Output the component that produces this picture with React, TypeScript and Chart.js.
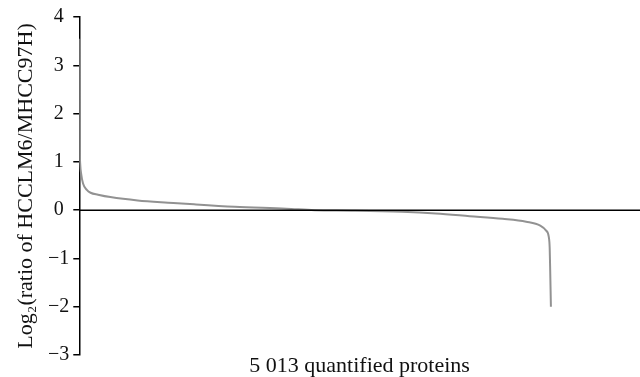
import React, { useEffect, useRef } from "react";
import { Chart, registerables } from "chart.js";

Chart.register(...registerables);

// Protein rank (sorted by ratio) and log2 ratio
const ranks = [1, 3, 6, 10, 20, 40, 80, 120, 200, 330, 620, 1000, 1220, 1650, 2200, 2500, 2900, 3430, 3790, 4150, 4500, 4750, 4900, 4960, 4990, 5000, 5006, 5013];
const log2Ratios = [3.55, 2.0, 1.2, 0.95, 0.75, 0.55, 0.42, 0.36, 0.32, 0.27, 0.2, 0.15, 0.12, 0.07, 0.03, 0.0, -0.01, -0.035, -0.07, -0.125, -0.18, -0.24, -0.32, -0.42, -0.55, -0.78, -1.3, -2.0];
const yTicks = [-3, -2, -1, 0, 1, 2, 3, 4];
const xMax = 5960;
const yTitle = "Log\u2082(ratio of HCCLM6/MHCC97H)";
const xTitle = "5 013 quantified proteins";

export default function App() {
  const ref = useRef<HTMLCanvasElement>(null);
  useEffect(() => {
    if (!ref.current) return;
    const family = "'Liberation Serif', 'Times New Roman', serif";
    const tickFont = { family, size: 20 };
    const titleFont = { family, size: 22, lineHeight: 1.0 };
    const zeroLine = {
      id: "zeroLine",
      afterDatasetsDraw(chart: any) {
        const { ctx, chartArea, scales } = chart;
        const y = scales.y.getPixelForValue(0);
        ctx.save();
        ctx.strokeStyle = "#000";
        ctx.lineWidth = 1.5;
        ctx.beginPath();
        ctx.moveTo(chartArea.left, y);
        ctx.lineTo(chartArea.right, y);
        ctx.stroke();
        ctx.restore();
      },
    };
    const chart = new Chart(ref.current, {
      type: "line",
      data: {
        datasets: [
          {
            data: ranks.map((r, i) => ({ x: r, y: log2Ratios[i] })),
            borderColor: "#929292",
            borderWidth: 2,
            pointRadius: 0,
            cubicInterpolationMode: "monotone",
            fill: false,
          },
        ],
      },
      options: {
        animation: false,
        responsive: false,
        maintainAspectRatio: false,
        layout: { padding: { top: 17, right: 0, left: 15, bottom: 0 } },
        plugins: { legend: { display: false }, tooltip: { enabled: false } },
        scales: {
          x: {
            type: "linear",
            min: 0,
            max: xMax,
            grid: { display: false, drawTicks: false },
            border: { display: false },
            ticks: { display: false },
            title: { display: true, text: xTitle, color: "#111", font: titleFont, padding: { top: 0, bottom: 0 } },
          },
          y: {
            min: -3,
            max: 4,
            afterBuildTicks: (axis: any) => {
              axis.ticks = yTicks.map((v) => ({ value: v }));
            },
            grid: { drawOnChartArea: false, drawTicks: true, tickLength: 6, color: "#000", lineWidth: 1.5 },
            border: { display: true, color: "#000", width: 1.5 },
            ticks: {
              color: "#111",
              font: tickFont,
              padding: 4,
              crossAlign: "center",
              callback: (v: any) => (Number(v) < 0 ? "\u2212" + Math.abs(Number(v)) : String(v)),
            },
            title: { display: true, text: yTitle, color: "#111", font: titleFont, padding: { top: 0, bottom: 7 } },
          },
        },
      },
      plugins: [zeroLine],
    });
    return () => chart.destroy();
  }, []);
  return (
    <div style={{ position: "fixed", left: 0, top: 0, width: 640, height: 377, background: "#fff" }}>
      <canvas ref={ref} width={640} height={377} />
    </div>
  );
}
